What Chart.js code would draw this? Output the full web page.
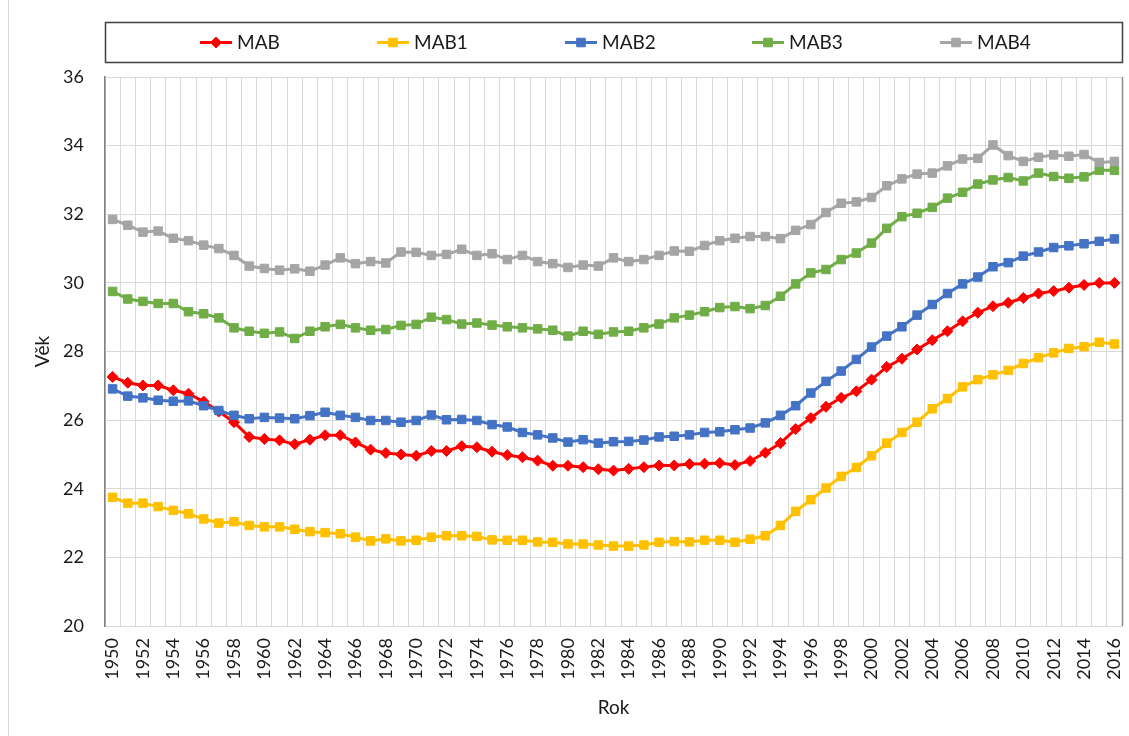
<!DOCTYPE html>
<html><head><meta charset="utf-8">
<script src="https://cdn.jsdelivr.net/npm/chart.js@4.4.1/dist/chart.umd.min.js"></script>
<style>html,body{margin:0;padding:0;background:#fff;}#wrap{width:1129px;height:736px;}</style>
</head><body><div id="wrap"><canvas id="c" width="1129" height="736"></canvas></div>
<script>
const years = [1950,1951,1952,1953,1954,1955,1956,1957,1958,1959,
  1960,1961,1962,1963,1964,1965,1966,1967,1968,1969,
  1970,1971,1972,1973,1974,1975,1976,1977,1978,1979,
  1980,1981,1982,1983,1984,1985,1986,1987,1988,1989,
  1990,1991,1992,1993,1994,1995,1996,1997,1998,1999,
  2000,2001,2002,2003,2004,2005,2006,2007,2008,2009,
  2010,2011,2012,2013,2014,2015,2016];

const seriesNames = ['MAB','MAB1','MAB2','MAB3','MAB4'];

const MAB = [27.26,27.09,27.01,27.01,26.87,26.77,26.54,26.25,25.94,25.51,
  25.45,25.41,25.30,25.43,25.56,25.56,25.35,25.14,25.04,25.00,
  24.96,25.10,25.10,25.24,25.21,25.08,24.98,24.92,24.82,24.67,
  24.67,24.63,24.57,24.53,24.58,24.63,24.68,24.68,24.72,24.73,
  24.75,24.69,24.81,25.05,25.33,25.74,26.06,26.39,26.65,26.84,
  27.18,27.55,27.79,28.06,28.33,28.59,28.88,29.13,29.32,29.42,
  29.56,29.69,29.76,29.86,29.94,30.00,30.00];

const MAB1 = [23.75,23.58,23.58,23.48,23.37,23.27,23.12,23.00,23.04,22.93,
  22.89,22.89,22.82,22.75,22.72,22.69,22.59,22.48,22.54,22.48,
  22.50,22.59,22.63,22.63,22.61,22.51,22.50,22.50,22.45,22.44,
  22.39,22.39,22.36,22.33,22.33,22.36,22.44,22.46,22.45,22.50,
  22.50,22.44,22.53,22.63,22.93,23.34,23.68,24.02,24.36,24.62,
  24.96,25.33,25.64,25.94,26.33,26.63,26.97,27.18,27.32,27.45,
  27.65,27.82,27.96,28.09,28.14,28.27,28.22];

const MAB2 = [26.91,26.70,26.65,26.58,26.55,26.56,26.42,26.28,26.14,26.04,
  26.08,26.06,26.04,26.13,26.23,26.14,26.08,25.99,25.99,25.94,
  25.99,26.15,26.01,26.02,25.99,25.87,25.80,25.64,25.57,25.48,
  25.36,25.43,25.33,25.37,25.38,25.42,25.51,25.53,25.57,25.64,
  25.66,25.72,25.77,25.92,26.14,26.42,26.79,27.13,27.43,27.77,
  28.13,28.45,28.72,29.06,29.37,29.69,29.97,30.17,30.47,30.59,
  30.78,30.90,31.03,31.08,31.14,31.21,31.28];

const MAB3 = [29.75,29.53,29.46,29.40,29.40,29.16,29.10,28.98,28.69,28.59,
  28.53,28.57,28.38,28.59,28.72,28.79,28.69,28.62,28.64,28.76,
  28.79,29.00,28.93,28.80,28.83,28.77,28.72,28.69,28.66,28.62,
  28.45,28.59,28.50,28.57,28.59,28.69,28.80,28.98,29.06,29.16,
  29.28,29.31,29.25,29.34,29.61,29.97,30.29,30.39,30.68,30.87,
  31.16,31.59,31.93,32.03,32.20,32.47,32.64,32.88,33.00,33.07,
  32.97,33.20,33.10,33.05,33.09,33.28,33.28];

const MAB4 = [31.85,31.68,31.48,31.51,31.30,31.23,31.10,31.00,30.80,30.49,
  30.42,30.37,30.41,30.34,30.52,30.73,30.56,30.62,30.58,30.90,
  30.89,30.80,30.83,30.98,30.80,30.85,30.68,30.80,30.62,30.56,
  30.45,30.52,30.49,30.73,30.62,30.68,30.80,30.93,30.92,31.09,
  31.23,31.30,31.35,31.35,31.29,31.53,31.70,32.05,32.32,32.36,
  32.49,32.83,33.03,33.17,33.20,33.41,33.61,33.63,34.02,33.71,
  33.54,33.66,33.73,33.69,33.74,33.51,33.54];

const seriesValues = [MAB, MAB1, MAB2, MAB3, MAB4];
const yMin = 20, yMax = 36, yStep = 2;
const xTitle = 'Rok', yTitle = 'Věk';

const colors = ['#FF0000','#FFC000','#4472C4','#70AD47','#A5A5A5'];
const styles = ['rectRot','rect','rect','rect','rect'];
const legendX = [200, 377, 565, 752, 940];
const FONT = 'Lato, "Open Sans", "DejaVu Sans", sans-serif';
const TXT = '#1a1a1a';

function drawMarker(ctx, style, x, y, color) {
  ctx.save();
  ctx.fillStyle = color; ctx.strokeStyle = color; ctx.lineWidth = 1;
  ctx.beginPath();
  if (style === 'rectRot') {
    const r = 5.5;
    ctx.moveTo(x, y - r); ctx.lineTo(x + r, y); ctx.lineTo(x, y + r); ctx.lineTo(x - r, y); ctx.closePath();
  } else {
    const s = 4.3;
    ctx.rect(x - s, y - s, 2 * s, 2 * s);
  }
  ctx.fill(); ctx.stroke();
  ctx.restore();
}

const decor = {
  id: 'decor',
  beforeDraw(chart) {
    const ctx = chart.ctx;
    ctx.save();
    ctx.fillStyle = '#fff';
    ctx.fillRect(0, 0, chart.width, chart.height);
    ctx.strokeStyle = '#d9d9d9'; ctx.lineWidth = 1;
    ctx.beginPath(); ctx.moveTo(8.5, 0); ctx.lineTo(8.5, chart.height); ctx.stroke();
    ctx.restore();
  },
  beforeDatasetsDraw(chart) {
    const ctx = chart.ctx, a = chart.chartArea;
    ctx.save();
    ctx.strokeStyle = '#8c8c8c'; ctx.lineWidth = 1.5;
    ctx.beginPath(); ctx.moveTo(a.right + 0.5, a.top); ctx.lineTo(a.right + 0.5, a.bottom); ctx.stroke();
    ctx.restore();
  },
  afterDraw(chart) {
    const ctx = chart.ctx, a = chart.chartArea;
    ctx.save();
    ctx.strokeStyle = '#3f3f3f'; ctx.lineWidth = 1.5;
    ctx.strokeRect(a.left + 0.5, 22.5, a.right - a.left, 40);
    const yMid = 42.5;
    ctx.font = '19px ' + FONT;
    ctx.textBaseline = 'middle'; ctx.textAlign = 'left';
    chart.data.datasets.forEach((ds, i) => {
      const x0 = legendX[i];
      ctx.strokeStyle = colors[i]; ctx.lineWidth = 3;
      ctx.beginPath(); ctx.moveTo(x0, yMid); ctx.lineTo(x0 + 32, yMid); ctx.stroke();
      drawMarker(ctx, styles[i], x0 + 16, yMid, colors[i]);
      ctx.fillStyle = TXT;
      ctx.fillText(ds.label, x0 + 37, yMid);
    });
    ctx.restore();
  }
};

new Chart(document.getElementById('c'), {
  type: 'line',
  data: {
    labels: years,
    datasets: seriesNames.map((n, i) => ({
      label: n,
      data: seriesValues[i],
      borderColor: colors[i],
      backgroundColor: colors[i],
      borderWidth: 3,
      pointStyle: styles[i],
      pointRadius: i === 0 ? 5.5 : 6,
      pointBorderWidth: 1,
      pointBorderColor: colors[i],
      pointBackgroundColor: colors[i],
      tension: 0,
      fill: false,
      order: 4 - i
    }))
  },
  options: {
    responsive: false,
    animation: false,
    devicePixelRatio: 1,
    layout: { padding: { top: 77, left: 27, right: 5, bottom: 13 } },
    plugins: { legend: { display: false }, tooltip: { enabled: false } },
    scales: {
      x: {
        type: 'category',
        offset: true,
        grid: { offset: true, color: '#d9d9d9', drawTicks: false, lineWidth: 1 },
        border: { color: '#d9d9d9' },
        ticks: {
          autoSkip: false, minRotation: 90, maxRotation: 90, padding: 12,
          color: TXT, font: { family: FONT, size: 18 },
          callback: (v, i) => (i % 2 === 0 ? String(years[i]) : '')
        },
        title: { display: true, text: xTitle, color: TXT, font: { family: FONT, size: 19 } },
        afterFit(s) { s.height = 97; s.paddingLeft = 0; s.paddingRight = 0; }
      },
      y: {
        min: yMin, max: yMax,
        ticks: { stepSize: yStep, padding: 21, color: TXT, font: { family: FONT, size: 18 } },
        grid: { color: '#d9d9d9', drawTicks: false },
        border: { color: '#7f7f7f', width: 1.5 },
        title: { display: true, text: yTitle, color: TXT, font: { family: FONT, size: 19 } },
        afterFit(s) { s.width = 78; }
      }
    }
  },
  plugins: [decor]
});
</script>
</body></html>
